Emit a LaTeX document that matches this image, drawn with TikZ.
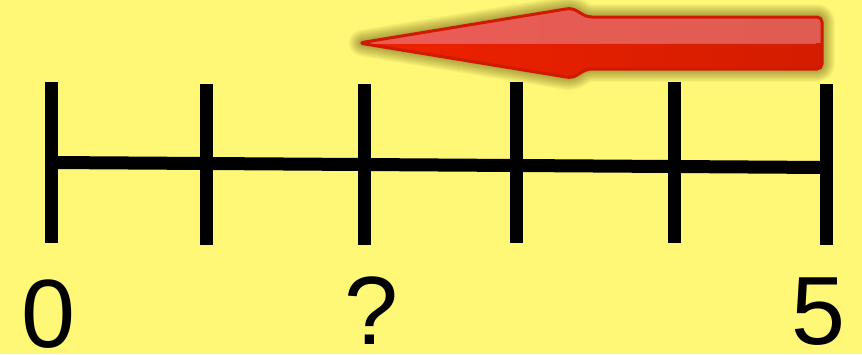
\documentclass[tikz,border=0pt]{standalone}
\usepackage{fontspec}
\setmainfont{Liberation Sans}
\definecolor{bg}{HTML}{FFF877}
\definecolor{arrowedge}{HTML}{D01A00}
\definecolor{arrowtopL}{HTML}{EC5C56}
\definecolor{arrowtopR}{HTML}{DE5C52}
\definecolor{arrowbotL}{HTML}{F02200}
\definecolor{arrowbotR}{HTML}{D21C00}
\definecolor{shadowcol}{HTML}{504000}
\tikzset{
  tickline/.style={line width=13pt, line cap=butt, black},
  axisline/.style={line width=13pt, line cap=butt, black},
  lbl/.style={inner sep=0pt, anchor=base, font=\fontsize{97}{97}\selectfont},
  shadowlayer/.style={fill=shadowcol, draw=shadowcol, fill opacity=0.045, draw opacity=0.045, line join=round},
}
\begin{document}
\begin{tikzpicture}[x=1pt,y=-1pt]
\fill[bg] (0,0) rectangle (862,354);
\useasboundingbox (0,0) rectangle (862,354);

% tick coordinates
\coordinate (t1a) at (51.5,82);  \coordinate (t1b) at (51.5,243);
\coordinate (t2a) at (206.5,84); \coordinate (t2b) at (206.5,245);
\coordinate (t3a) at (364,84);   \coordinate (t3b) at (364,245);
\coordinate (t4a) at (516.5,82); \coordinate (t4b) at (516.5,243);
\coordinate (t5a) at (674,82);   \coordinate (t5b) at (674,243);
\coordinate (t6a) at (826.5,84); \coordinate (t6b) at (826.5,245);
\coordinate (axL) at (51.5,162.5);
\coordinate (axR) at (826.5,167.5);

% axis
\draw[axisline] (axL) -- (axR);
\foreach \i in {1,...,6} { \draw[tickline] (t\i a) -- (t\i b); }

% arrow coordinates
\coordinate (tip) at (359,43);
\coordinate (ht) at (572,8);
\coordinate (st) at (587,17);
\coordinate (sr) at (822,17);
\coordinate (sb) at (822,69);
\coordinate (sbl) at (587,69);
\coordinate (hb) at (572,78);
\def\arrowpath{(tip) -- (ht) -- (st) -- (sr) -- (sb) -- (sbl) -- (hb) -- cycle}

% soft shadow
\begin{scope}[shift={(3,9)}]
  \foreach \w in {2,4,...,26} {
    \path[shadowlayer, line width=\w pt, rounded corners=5pt] \arrowpath;
  }
\end{scope}

% arrow body
\fill[arrowbotL, rounded corners=5pt] \arrowpath;
\begin{scope}
  \clip[rounded corners=5pt] \arrowpath;
  \shade[left color=arrowtopL, right color=arrowtopR] (350,0) rectangle (830,43);
  \shade[left color=arrowbotL, right color=arrowbotR] (350,43) rectangle (830,90);
  \draw[white, opacity=0.25, line width=1pt] (tip) -- (816,43);
\end{scope}
\draw[arrowedge, line width=3pt, rounded corners=5pt, line join=round] \arrowpath;

% labels
\node[lbl] (l0) at (48.5,347) {0};
\node[lbl] (lq) at (371,344) {?};
\node[lbl] (l5) at (818.5,344) {5};
\end{tikzpicture}
\end{document}
